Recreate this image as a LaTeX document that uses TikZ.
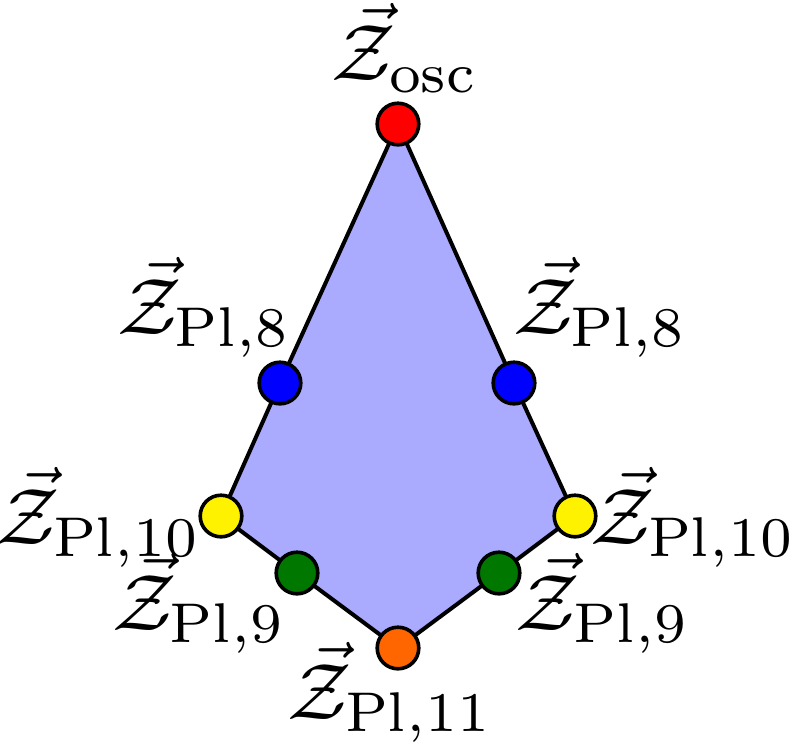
\documentclass[tikz,border=0pt]{standalone}
\usepackage{amsmath}
\definecolor{fillblue}{RGB}{170,170,255}
\definecolor{dotgreen}{RGB}{0,120,0}
\definecolor{dotorange}{RGB}{255,102,0}
\begin{document}
\begin{tikzpicture}[x=0.125pt,y=-0.125pt,
  dot/.style={circle,draw=black,line width=0.45pt,minimum size=5.2pt,inner sep=0pt},
  lab/.style={inner sep=0pt}]
\useasboundingbox (0,0) rectangle (789,747);
\coordinate (T) at (398,124);
\coordinate (BL) at (280,383);
\coordinate (BR) at (514,383);
\coordinate (YL) at (221,516);
\coordinate (YR) at (575,516);
\coordinate (GL) at (297,573);
\coordinate (GR) at (499,573);
\coordinate (O) at (398,648);
\filldraw[fill=fillblue,draw=black,line width=0.5pt,line join=round]
  (T) -- (BR) -- (YR) -- (GR) -- (O) -- (GL) -- (YL) -- (BL) -- cycle;
\node[dot,fill=red] (nT) at (T) {};
\node[dot,fill=blue] (nBL) at (BL) {};
\node[dot,fill=blue] (nBR) at (BR) {};
\node[dot,fill=yellow] (nYL) at (YL) {};
\node[dot,fill=yellow] (nYR) at (YR) {};
\node[dot,fill=dotgreen] (nGL) at (GL) {};
\node[dot,fill=dotgreen] (nGR) at (GR) {};
\node[dot,fill=dotorange] (nO) at (O) {};
\node[lab] (lT) at (405,48) {$\vec{\mathcal{Z}}_{\mathrm{osc}}$};
\node[lab] (lBL) at (204,307) {$\vec{\mathcal{Z}}_{\mathrm{Pl},8}$};
\node[lab] (lBR) at (600,307) {$\vec{\mathcal{Z}}_{\mathrm{Pl},8}$};
\node[lab] (lYL) at (98,517) {$\vec{\mathcal{Z}}_{\mathrm{Pl},10}$};
\node[lab] (lYR) at (693,517) {$\vec{\mathcal{Z}}_{\mathrm{Pl},10}$};
\node[lab] (lGL) at (199,603) {$\vec{\mathcal{Z}}_{\mathrm{Pl},9}$};
\node[lab] (lGR) at (603,603) {$\vec{\mathcal{Z}}_{\mathrm{Pl},9}$};
\node[lab] (lO) at (390,692) {$\vec{\mathcal{Z}}_{\mathrm{Pl},11}$};
\end{tikzpicture}
\end{document}
